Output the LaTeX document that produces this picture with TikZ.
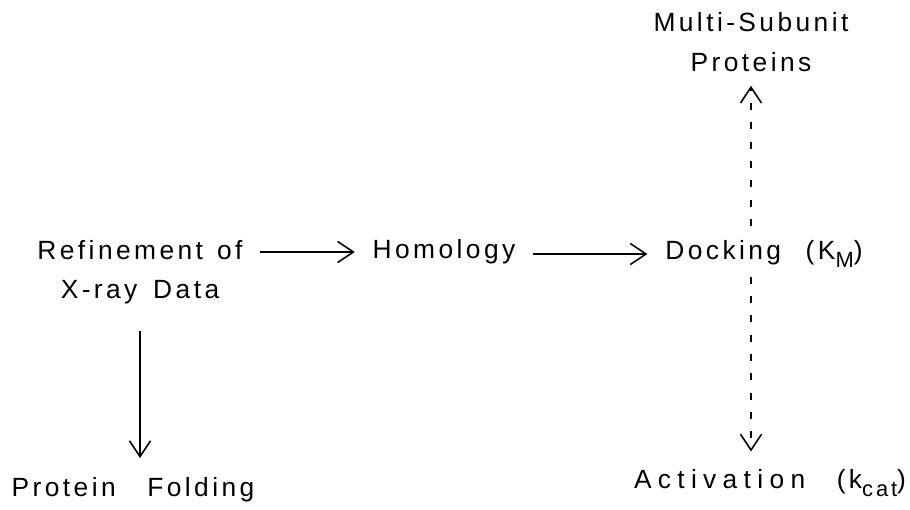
\documentclass[tikz,border=0pt]{standalone}
\usepackage{fontspec}
\setmainfont{Liberation Sans}[LetterSpace=13]
\usetikzlibrary{arrows.meta}
\newcommand{\lowidx}[1]{\raisebox{-4.5pt}{\fontsize{12.5}{12.5}\selectfont #1}}
\tikzstyle{stage}=[font=\fontsize{15}{22.5}\selectfont, align=center, inner xsep=10pt, inner ysep=5pt]
\tikzstyle{flowedge} = [draw,line width=0.9pt,-{Straight Barb[length=9pt,width=12pt,line width=0.9pt]}]
\tikzstyle{dashedflow} = [flowedge, dash pattern=on 4pt off 7pt]

\begin{document}
\begin{tikzpicture}[x=0.02cm, y=-0.02cm]
  \useasboundingbox (0,0) rectangle (910,510);

   \foreach \pos/\name/\txt in {{(140,272)/refine/{Refinement\hspace{8pt}of\\X-ray\hspace{9pt}Data}}, {(444,252)/homology/Homology},
        {(764,254)/docking/{Docking\hspace{14pt}(K\lowidx{M})}}, {(751,42)/multi/{Multi-Subunit\\Proteins}},
        {(133,490)/folding/{Protein\hspace{18pt}Folding}}, {(770,483)/activation/{{\addfontfeatures{LetterSpace=24}Activation}\hspace{18pt}(k\lowidx{cat})}}}
        \node[stage] (\name) at \pos {\txt};

    % main line, left to right
  \foreach \source/ \dest in {refine/homology, homology/docking}
          \path[flowedge] (\dest.west -| \source.east) -- (\dest.west);

  \path[flowedge, shorten <=10pt, shorten >=6pt] (refine.south) -- (refine.south |- folding.north);

    % dashed branches from docking
  \path[dashedflow, shorten <=3pt, shorten >=3pt] (docking.north -| multi.south) -- (multi.south);
  \path[dashedflow, shorten >=5pt] (docking.south -| multi.south) -- (activation.north -| multi.south);

\end{tikzpicture}
\end{document}
